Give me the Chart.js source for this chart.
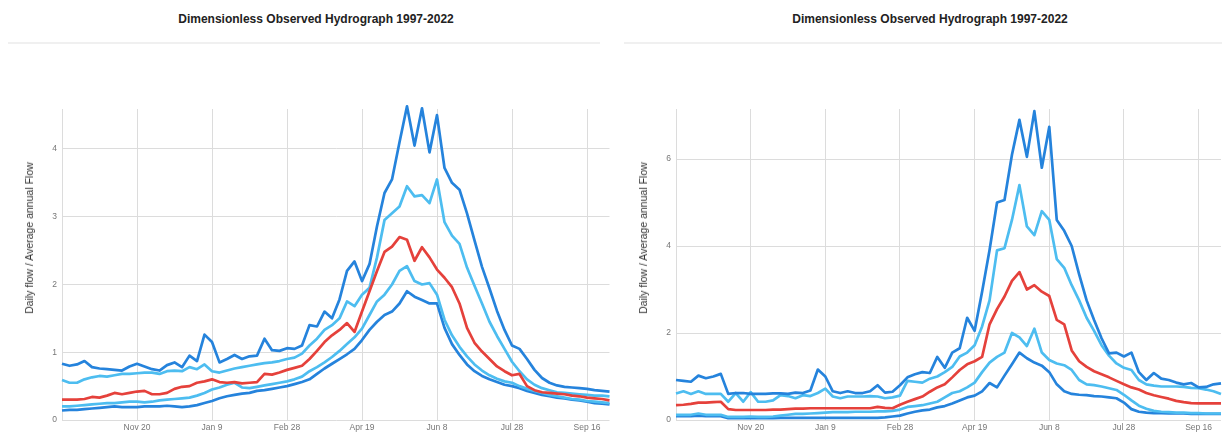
<!DOCTYPE html>
<html>
<head>
<meta charset="utf-8">
<script src="https://cdn.jsdelivr.net/npm/chart.js@4.4.1/dist/chart.umd.min.js"></script>
<style>
  html, body { margin: 0; padding: 0; background: #fff; }
  #wrap { position: relative; width: 1228px; height: 434px; overflow: hidden;
          font-family: "Liberation Sans", Arial, sans-serif; }
  .title { position: absolute; top: 12px; font-weight: bold; font-size: 12px; color: #222;
           white-space: nowrap; transform: translateX(-50%); }
  .rule { position: absolute; top: 42px; height: 2px; background: #f0f0f0; }
  .ytitle { position: absolute; font-size: 10.5px; color: #333; white-space: nowrap;
            transform: translate(-50%, -50%) rotate(-90deg); }
  canvas { position: absolute; top: 0; }
</style>
</head>
<body>
<div id="wrap">
  <div class="title" style="left:316px">Dimensionless Observed Hydrograph 1997-2022</div>
  <div class="title" style="left:930px">Dimensionless Observed Hydrograph 1997-2022</div>
  <div class="rule" style="left:8px;width:592px"></div>
  <div class="rule" style="left:624px;width:598px"></div>
  <canvas id="left" width="614" height="434" style="left:0"></canvas>
  <canvas id="right" width="614" height="434" style="left:614px"></canvas>
  <div class="ytitle" style="left:29px;top:238px">Daily flow / Average annual Flow</div>
  <div class="ytitle" style="left:643px;top:238px">Daily flow / Average annual Flow</div>
</div>
<script>
// Day of the water year (0 = Oct 1), sampled every 5 days
const days = [0, 5, 10, 15, 20, 25, 30, 35, 40, 45, 50, 55, 60, 65, 70, 75, 80, 85, 90, 95,
  100, 105, 110, 115, 120, 125, 130, 135, 140, 145, 150, 155, 160, 165, 170, 175, 180, 185, 190, 195,
  200, 205, 210, 215, 220, 225, 230, 235, 240, 245, 250, 255, 260, 265, 270, 275, 280, 285, 290, 295,
  300, 305, 310, 315, 320, 325, 330, 335, 340, 345, 350, 355, 360, 365];

const tickDays = [50, 100, 150, 200, 250, 300, 350];
const tickLabels = ['Nov 20', 'Jan 9', 'Feb 28', 'Apr 19', 'Jun 8', 'Jul 28', 'Sep 16'];

const leftYTicks = [0, 1, 2, 3, 4];
const rightYTicks = [0, 2, 4, 6];

// Left station: daily flow / average annual flow
const leftP90 = [0.83, 0.80, 0.82, 0.87, 0.78, 0.76, 0.75, 0.74, 0.73, 0.79,
  0.83, 0.79, 0.75, 0.73, 0.81, 0.85, 0.78, 0.95, 0.87, 1.26,
  1.15, 0.85, 0.90, 0.96, 0.90, 0.94, 0.95, 1.20, 1.03, 1.02,
  1.06, 1.05, 1.10, 1.40, 1.38, 1.60, 1.50, 1.78, 2.20, 2.34,
  2.05, 2.30, 2.86, 3.35, 3.55, 4.10, 4.63, 4.05, 4.60, 3.95,
  4.50, 3.72, 3.50, 3.40, 3.05, 2.65, 2.26, 1.94, 1.61, 1.33,
  1.10, 1.05, 0.90, 0.74, 0.62, 0.55, 0.51, 0.49, 0.48, 0.47,
  0.46, 0.44, 0.43, 0.42];
const leftP75 = [0.59, 0.55, 0.55, 0.60, 0.63, 0.65, 0.64, 0.66, 0.68, 0.68,
  0.69, 0.70, 0.70, 0.68, 0.72, 0.73, 0.72, 0.78, 0.75, 0.82,
  0.72, 0.70, 0.73, 0.76, 0.78, 0.80, 0.82, 0.84, 0.85, 0.87,
  0.90, 0.92, 0.98, 1.10, 1.20, 1.33, 1.40, 1.50, 1.75, 1.68,
  1.85, 1.95, 2.40, 2.95, 3.05, 3.15, 3.45, 3.30, 3.32, 3.20,
  3.55, 2.92, 2.72, 2.60, 2.25, 1.98, 1.72, 1.45, 1.24, 1.05,
  0.86, 0.72, 0.60, 0.52, 0.47, 0.44, 0.41, 0.40, 0.39, 0.38,
  0.37, 0.36, 0.36, 0.35];
const leftP50 = [0.30, 0.30, 0.30, 0.31, 0.34, 0.33, 0.36, 0.40, 0.38, 0.40,
  0.42, 0.43, 0.38, 0.38, 0.40, 0.46, 0.49, 0.50, 0.55, 0.57,
  0.60, 0.56, 0.55, 0.56, 0.54, 0.55, 0.56, 0.68, 0.67, 0.70,
  0.74, 0.77, 0.80, 0.90, 1.02, 1.15, 1.25, 1.33, 1.43, 1.30,
  1.60, 1.90, 2.20, 2.48, 2.56, 2.70, 2.66, 2.35, 2.55, 2.40,
  2.22, 2.10, 1.96, 1.72, 1.36, 1.14, 1.01, 0.90, 0.79, 0.72,
  0.66, 0.68, 0.50, 0.44, 0.41, 0.40, 0.39, 0.38, 0.36, 0.35,
  0.33, 0.32, 0.31, 0.29];
const leftP25 = [0.20, 0.20, 0.21, 0.22, 0.23, 0.24, 0.25, 0.25, 0.26, 0.27,
  0.27, 0.26, 0.27, 0.29, 0.30, 0.31, 0.32, 0.33, 0.36, 0.40,
  0.45, 0.48, 0.52, 0.55, 0.48, 0.47, 0.49, 0.51, 0.53, 0.55,
  0.57, 0.60, 0.64, 0.72, 0.78, 0.85, 0.93, 1.02, 1.12, 1.22,
  1.35, 1.55, 1.75, 1.85, 2.00, 2.20, 2.27, 2.05, 2.00, 2.02,
  1.85, 1.48, 1.25, 1.08, 0.94, 0.82, 0.73, 0.66, 0.61, 0.57,
  0.55, 0.50, 0.46, 0.43, 0.40, 0.37, 0.35, 0.33, 0.31, 0.30,
  0.28, 0.27, 0.26, 0.25];
const leftP10 = [0.14, 0.15, 0.15, 0.16, 0.17, 0.18, 0.19, 0.20, 0.19, 0.19,
  0.19, 0.20, 0.20, 0.20, 0.21, 0.20, 0.19, 0.20, 0.22, 0.25,
  0.28, 0.32, 0.35, 0.37, 0.39, 0.40, 0.43, 0.44, 0.46, 0.48,
  0.50, 0.53, 0.56, 0.60, 0.68, 0.76, 0.83, 0.90, 0.97, 1.05,
  1.18, 1.33, 1.45, 1.55, 1.60, 1.72, 1.90, 1.82, 1.77, 1.72,
  1.72, 1.36, 1.12, 0.96, 0.82, 0.72, 0.65, 0.60, 0.56, 0.52,
  0.50, 0.47, 0.43, 0.40, 0.37, 0.35, 0.33, 0.32, 0.30, 0.29,
  0.27, 0.25, 0.24, 0.23];

// Right station: daily flow / average annual flow
const rightP90 = [0.92, 0.90, 0.88, 1.02, 0.96, 1.00, 1.06, 0.60, 0.62, 0.62,
  0.60, 0.60, 0.60, 0.61, 0.61, 0.60, 0.63, 0.62, 0.68, 1.16,
  1.00, 0.66, 0.62, 0.66, 0.62, 0.62, 0.66, 0.80, 0.63, 0.65,
  0.80, 0.98, 1.05, 1.10, 1.08, 1.45, 1.20, 1.55, 1.65, 2.35,
  2.05, 2.95, 3.91, 5.00, 5.06, 6.10, 6.90, 6.05, 7.10, 5.80,
  6.74, 4.60, 4.35, 4.00, 3.35, 2.75, 2.30, 1.88, 1.53, 1.55,
  1.46, 1.55, 1.10, 0.92, 1.08, 0.95, 0.92, 0.86, 0.82, 0.85,
  0.75, 0.76, 0.82, 0.84];
const rightP75 = [0.61, 0.66, 0.60, 0.66, 0.60, 0.60, 0.60, 0.42, 0.62, 0.42,
  0.64, 0.42, 0.42, 0.45, 0.57, 0.55, 0.50, 0.57, 0.55, 0.62,
  0.72, 0.54, 0.50, 0.54, 0.54, 0.54, 0.55, 0.54, 0.50, 0.52,
  0.56, 0.90, 0.88, 0.86, 0.95, 1.00, 1.10, 1.22, 1.46, 1.55,
  1.72, 2.15, 2.75, 3.90, 3.95, 4.60, 5.40, 4.45, 4.25, 4.80,
  4.60, 3.70, 3.50, 3.10, 2.75, 2.35, 2.05, 1.72, 1.48, 1.30,
  1.20, 1.15, 0.92, 0.82, 0.79, 0.77, 0.77, 0.77, 0.76, 0.74,
  0.73, 0.70, 0.66, 0.60];
const rightP50 = [0.34, 0.35, 0.37, 0.40, 0.40, 0.41, 0.42, 0.25, 0.23, 0.23,
  0.23, 0.23, 0.23, 0.24, 0.24, 0.25, 0.26, 0.26, 0.27, 0.27,
  0.27, 0.27, 0.27, 0.27, 0.27, 0.27, 0.27, 0.30, 0.28, 0.27,
  0.35, 0.42, 0.48, 0.54, 0.65, 0.75, 0.82, 0.98, 1.15, 1.28,
  1.35, 1.45, 2.20, 2.55, 2.84, 3.20, 3.40, 3.00, 3.10, 2.95,
  2.85, 2.30, 2.20, 1.60, 1.35, 1.22, 1.12, 1.05, 0.98, 0.90,
  0.82, 0.75, 0.70, 0.62, 0.57, 0.53, 0.49, 0.44, 0.41, 0.39,
  0.38, 0.38, 0.38, 0.38];
const rightP25 = [0.12, 0.12, 0.12, 0.15, 0.12, 0.12, 0.12, 0.07, 0.07, 0.07,
  0.08, 0.07, 0.07, 0.08, 0.10, 0.12, 0.14, 0.14, 0.15, 0.16,
  0.17, 0.18, 0.18, 0.18, 0.19, 0.19, 0.19, 0.20, 0.20, 0.21,
  0.24, 0.30, 0.32, 0.34, 0.38, 0.42, 0.52, 0.62, 0.66, 0.75,
  0.86, 1.10, 1.32, 1.45, 1.55, 2.00, 1.90, 1.70, 2.10, 1.55,
  1.38, 1.30, 1.26, 1.15, 0.92, 0.82, 0.80, 0.77, 0.73, 0.69,
  0.58, 0.45, 0.33, 0.26, 0.21, 0.19, 0.18, 0.17, 0.17, 0.16,
  0.16, 0.15, 0.15, 0.15];
const rightP10 = [0.09, 0.09, 0.09, 0.10, 0.09, 0.09, 0.09, 0.04, 0.04, 0.04,
  0.04, 0.04, 0.04, 0.04, 0.05, 0.05, 0.05, 0.05, 0.05, 0.05,
  0.05, 0.05, 0.05, 0.05, 0.05, 0.05, 0.05, 0.05, 0.06, 0.08,
  0.10, 0.15, 0.19, 0.22, 0.24, 0.29, 0.32, 0.38, 0.45, 0.52,
  0.56, 0.66, 0.85, 0.75, 1.02, 1.28, 1.55, 1.42, 1.32, 1.25,
  1.10, 0.82, 0.66, 0.60, 0.58, 0.57, 0.55, 0.54, 0.52, 0.50,
  0.40, 0.25, 0.19, 0.17, 0.16, 0.16, 0.15, 0.15, 0.15, 0.14,
  0.14, 0.14, 0.14, 0.14];

const DARK = '#2583dc';
const LIGHT = '#4dbdf0';
const RED = '#e5413b';
const GRID = '#dcdcdc';

function buildChart(canvasId, series, yMax, yTicks, padRight) {
  const datasets = series.map(s => ({
    data: days.map((d, i) => ({ x: d, y: s.values[i] })),
    borderColor: s.color,
    borderWidth: 2.7,
    borderJoinStyle: 'round',
    pointRadius: 0,
    tension: 0,
    fill: false,
    clip: false
  }));
  return new Chart(document.getElementById(canvasId), {
    type: 'line',
    data: { datasets },
    options: {
      responsive: false,
      animation: false,
      layout: { padding: { top: 109, right: padRight, left: 0, bottom: 0 } },
      plugins: { legend: { display: false }, tooltip: { enabled: false } },
      scales: {
        x: {
          type: 'linear', min: 0, max: 365,
          afterBuildTicks: s => { s.ticks = tickDays.map(v => ({ value: v })); },
          afterFit: s => { s.height = 14; },
          ticks: {
            autoSkip: false, maxRotation: 0, padding: 3,
            font: { family: '"Liberation Sans", Arial, sans-serif', size: 8.5 },
            color: '#777',
            callback: v => tickLabels[tickDays.indexOf(v)]
          },
          grid: { color: GRID, drawTicks: false },
          border: { display: false }
        },
        y: {
          min: 0, max: yMax,
          afterBuildTicks: s => { s.ticks = yTicks.map(v => ({ value: v })); },
          afterFit: s => { s.width = 62; },
          ticks: {
            padding: 5,
            font: { family: '"Liberation Sans", Arial, sans-serif', size: 8.5 },
            color: '#777'
          },
          grid: { color: GRID, drawTicks: false },
          border: { display: true, color: GRID }
        }
      }
    }
  });
}

buildChart('left', [
  { values: leftP50, color: RED },
  { values: leftP90, color: DARK },
  { values: leftP75, color: LIGHT },
  { values: leftP25, color: LIGHT },
  { values: leftP10, color: DARK }
], 4.59, leftYTicks, 4.5);

buildChart('right', [
  { values: rightP50, color: RED },
  { values: rightP90, color: DARK },
  { values: rightP75, color: LIGHT },
  { values: rightP25, color: LIGHT },
  { values: rightP10, color: DARK }
], 7.15, rightYTicks, 7);
</script>
</body>
</html>
